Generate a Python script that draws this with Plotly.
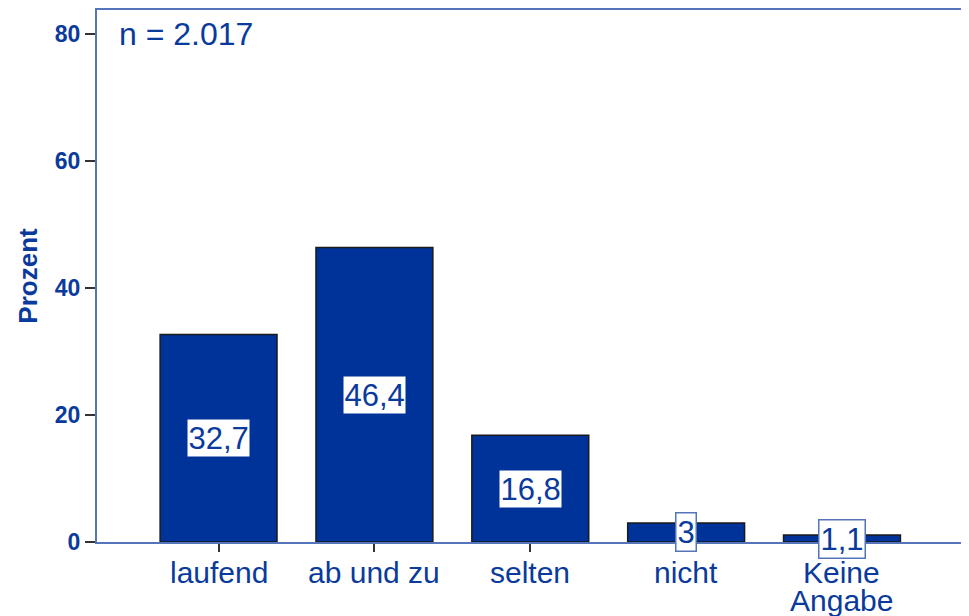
import plotly.graph_objects as go

categories = ["laufend", "ab und zu", "selten", "nicht", "Keine Angabe"]
category_lines = [["laufend"], ["ab und zu"], ["selten"], ["nicht"], ["Keine", "Angabe"]]
values = [32.7, 46.4, 16.8, 3.0, 1.1]
value_labels = ["32,7", "46,4", "16,8", "3", "1,1"]
y_ticks = [0, 20, 40, 60, 80]
n_text = "n = 2.017"

BAR = "#003399"
TXT = "#0a3a9c"
FRAME = "#5575bb"
FONT = "Arial, Liberation Sans, sans-serif"

fig = go.Figure()
fig.add_trace(go.Bar(
    x=categories, y=values, width=0.75,
    marker=dict(color=BAR, line=dict(color="#1a1a1a", width=1.5)),
    hoverinfo="skip",
))

for c, v, t in zip(categories, values, value_labels):
    fig.add_annotation(
        x=c, y=v / 2, text=t, showarrow=False, xref="x", yref="y",
        font=dict(family=FONT, size=31, color=TXT),
        bgcolor="white", bordercolor=FRAME if v < 10 else BAR, borderwidth=1.5, borderpad=1,
    )

# category labels (tight line spacing as in the reference)
for c, lines in zip(categories, category_lines):
    for i, line in enumerate(lines):
        fig.add_annotation(
            x=c, y=0, xref="x", yref="paper", text=line, showarrow=False,
            yanchor="middle", yshift=-30 - 28 * i,
            font=dict(family=FONT, size=30, color=TXT),
        )

fig.add_annotation(
    x=0.023, y=80, xref="paper", yref="y", text=n_text, showarrow=False,
    xanchor="left", yanchor="middle",
    font=dict(family=FONT, size=32, color=TXT),
)

# margins compensate for the page's 8px body margin
fig.update_layout(
    width=969, height=616,
    margin=dict(l=89, r=15, t=2, b=82, autoexpand=False),
    paper_bgcolor="white", plot_bgcolor="white",
    showlegend=False,
    bargap=0.25,
)
fig.update_xaxes(
    range=[-0.78, 4.77],
    showline=True, linecolor=FRAME, linewidth=2, mirror=True,
    ticks="outside", ticklen=8, tickwidth=2, tickcolor="#333333",
    showticklabels=False, automargin=False,
    showgrid=False, zeroline=False,
)
fig.update_yaxes(
    range=[0, 83.8],
    tickvals=y_ticks,
    showline=True, linecolor=FRAME, linewidth=2, mirror=True,
    ticks="outside", ticklen=10, tickwidth=2, tickcolor="#333333",
    tickfont=dict(family=FONT, size=23, color=TXT, weight="bold"),
    title=dict(text="<b>Prozent</b>", font=dict(family=FONT, size=26, color=TXT), standoff=10),
    showgrid=False, zeroline=False, automargin=False,
)

fig.write_html("out.html")
